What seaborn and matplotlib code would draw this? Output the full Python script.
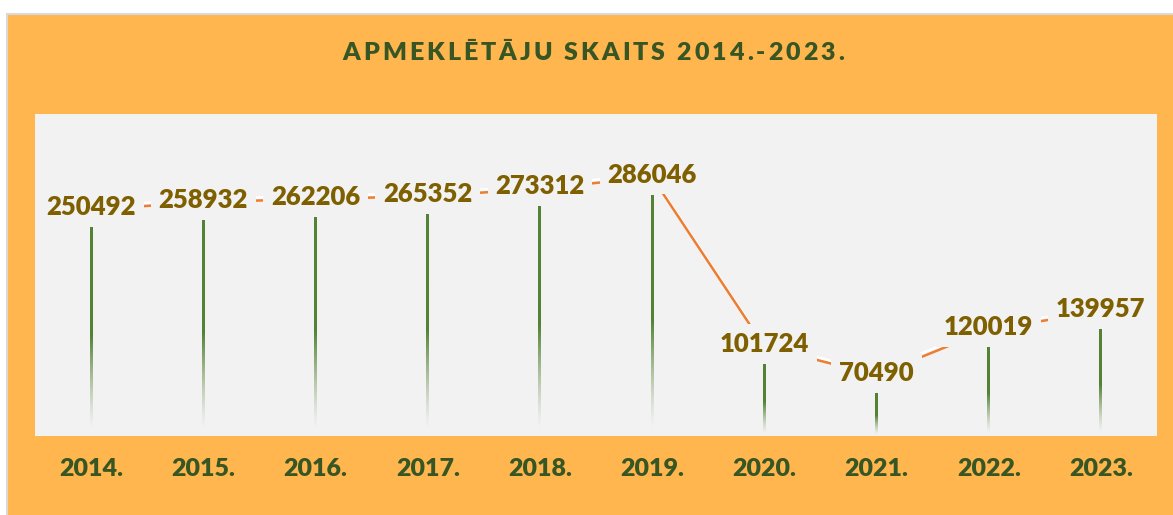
import numpy as np
import pandas as pd
import seaborn as sns
import matplotlib.pyplot as plt
from matplotlib import patheffects as pe
from matplotlib.patches import Rectangle
from matplotlib.colors import to_rgb
from matplotlib.transforms import offset_copy

# --- data ---
years = ["2014.", "2015.", "2016.", "2017.", "2018.", "2019.", "2020.", "2021.", "2022.", "2023."]
visitors = [250492, 258932, 262206, 265352, 273312, 286046, 101724, 70490, 120019, 139957]
title = "APMEKLĒTĀJU SKAITS 2014.-2023."

ORANGE_BG = "#FFB64F"
PLOT_BG = "#F2F2F2"
GREEN_BAR = "#548235"
GREEN_TXT = "#375623"
LINE_COL = "#ED7D31"
LABEL_COL = "#7F6000"

sns.set_style("white")
plt.rcParams['font.family'] = ['Lato', 'DejaVu Sans']

df = pd.DataFrame({"year": years, "visitors": visitors})

W, H = 1173, 515
fig = plt.figure(figsize=(W / 100, H / 100), dpi=100, facecolor="white")
fig.patches.append(Rectangle((7 / W, -0.05), 1.0, 1.05 - 14 / H, transform=fig.transFigure,
                             fc=ORANGE_BG, ec="#D9D9D9", lw=1.5, zorder=-1))

ax = fig.add_axes([35 / W, 1 - 436 / H, (1157 - 35) / W, (436 - 114) / H])
ax.set_facecolor(PLOT_BG)
ylim = (23900, 374300)

# --- thin bars, fading out towards the bottom of the plot area ---
sns.barplot(data=df, x="year", y="visitors", color=GREEN_BAR, width=0.025, ax=ax, zorder=2)

g = np.linspace(0, 1, 256)
grad = np.zeros((256, 1, 4))
grad[:, 0, :3] = to_rgb(GREEN_BAR)
grad[:, 0, 3] = np.clip((g - 0.03) / 0.45, 0, 1) ** 1.3
for p in ax.patches:
    x0, w, h = p.get_x(), p.get_width(), p.get_height()
    p.set_facecolor("none")
    p.set_edgecolor("none")
    ax.imshow(grad, extent=[x0, x0 + w, ylim[0], h], origin="lower",
              aspect="auto", interpolation="bilinear", zorder=2)

# --- line (sits a little above the bar tops) with white shadow ---
sns.lineplot(x=np.arange(len(years)), y=visitors, ax=ax, color=LINE_COL, lw=1.8, zorder=3)
line = ax.lines[-1]
line.set_transform(offset_copy(ax.transData, fig=fig, y=18, units="dots"))
line.set_path_effects([pe.SimpleLineShadow(offset=(-0.8, 2.2), shadow_color="white", alpha=1),
                       pe.Normal()])

# --- value labels ---
for i, v in enumerate(visitors):
    ax.annotate(f"{v}", (i, v), xytext=(0, 9), textcoords="offset points",
                ha="center", va="baseline", fontsize=18.5, fontweight="heavy", color=LABEL_COL,
                bbox=dict(boxstyle="square,pad=0.3", fc=PLOT_BG, ec="none"), zorder=5)

ax.set_xlim(-0.5, len(years) - 0.5)
ax.set_ylim(*ylim)
ax.set_xticks(range(len(years)))
ax.set_xticklabels(years, fontsize=18, fontweight="heavy", color=GREEN_TXT)
ax.tick_params(axis="x", length=0, pad=16)
ax.set_yticks([])
ax.set_xlabel("")
ax.set_ylabel("")
for s in ax.spines.values():
    s.set_visible(False)


# --- letter-spaced title ---
def spaced_text(fig, s, xc, y, spacing, **kw):
    r = fig.canvas.get_renderer()

    def width(t):
        tx = fig.text(0, 0, t, **kw)
        wd = tx.get_window_extent(r).width
        tx.remove()
        return wd

    chars = []
    for i, ch in enumerate(s):
        if ch != " ":
            chars.append((width(s[:i + 1]) - width(ch) + i * spacing, ch))
    total = width(s) + (len(s) - 1) * spacing
    start = xc * W - total / 2
    for left, ch in chars:
        fig.text((start + left) / W, y, ch, ha="left", va="center", **kw)


spaced_text(fig, title, 593 / W, 1 - 53 / H, 3.0,
            fontsize=18, fontweight="heavy", color=GREEN_TXT)

fig.savefig("out.png", dpi=100)
